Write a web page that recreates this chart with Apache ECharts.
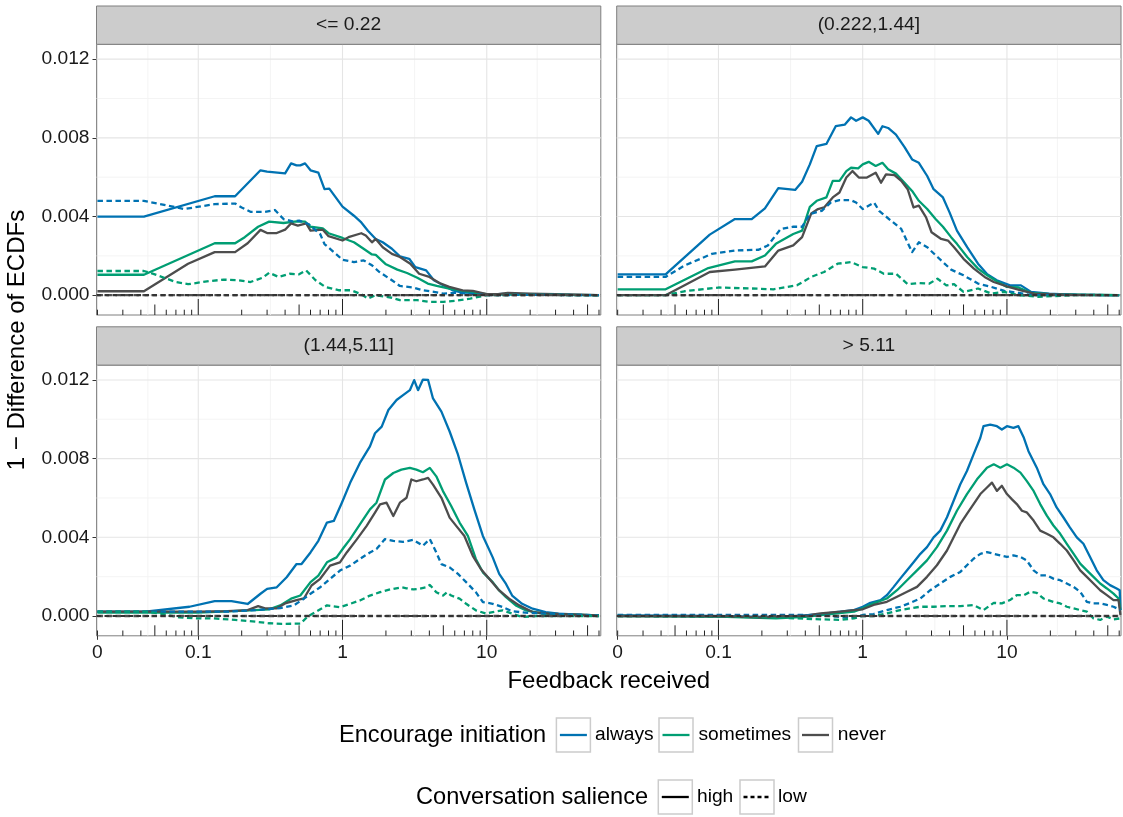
<!DOCTYPE html>
<html><head><meta charset="utf-8">
<script src="https://cdn.jsdelivr.net/npm/echarts@6/dist/echarts.min.js"></script>
<style>html,body{margin:0;padding:0;background:#fff}#c{width:1123px;height:817px}</style>
</head><body><div id="c"></div>
<script>
// ---------------- DATA (feedback received, 1 - difference of ECDFs in units of 1e-3) ----------------
const panelLabels = ['<= 0.22', '(0.222,1.44]', '(1.44,5.11]', '> 5.11'];
const initiationLevels = ['always', 'sometimes', 'never'];
const salienceLevels = ['high', 'low'];
const xTickValues = [0.02, 0.1, 1, 10];
const xTickLabels = ['0', '0.1', '1', '10'];
const yTickValues = [0, 0.004, 0.008, 0.012];
const yMinorValues = [0.002, 0.006, 0.010];

// Panel 1: <= 0.22
const p1AlwaysHigh = [[0.02,3.99],[0.042,3.99],[0.13,5.03],[0.18,5.03],[0.27,6.35],[0.3,6.28],[0.4,6.19],[0.44,6.7],[0.48,6.6],[0.51,6.6],[0.55,6.7],[0.6,6.35],[0.68,6.23],[0.75,5.39],[0.81,5.42],[1.0,4.5],[1.2,4.04],[1.35,3.7],[1.5,3.28],[1.7,2.86],[1.9,2.69],[2.2,2.36],[2.5,1.97],[2.9,1.85],[3.2,1.43],[3.8,1.26],[4.3,0.76],[5,0.5],[5.8,0.25],[6.8,0.13],[8.4,0.12],[10,0.03],[13,0.06],[20,0.04],[30,0.02],[60,0]];
const p1AlwaysLow = [[0.02,4.8],[0.042,4.8],[0.08,4.38],[0.13,4.63],[0.18,4.66],[0.2,4.46],[0.23,4.24],[0.29,4.24],[0.34,4.33],[0.39,3.87],[0.45,3.75],[0.5,3.79],[0.58,3.62],[0.7,3.11],[0.75,2.6],[0.9,2.1],[1.0,1.8],[1.2,1.68],[1.4,1.77],[1.6,1.52],[1.8,1.18],[2.2,0.76],[2.5,0.47],[3.1,0.39],[3.6,0.25],[4.3,0.17],[5,0.08],[6,0.12],[7.6,0.08],[10,0],[20,0.02],[60,0]];
const p1SometimesHigh = [[0.02,1.04],[0.042,1.04],[0.13,2.64],[0.18,2.64],[0.21,2.95],[0.26,3.48],[0.31,3.74],[0.39,3.67],[0.48,3.75],[0.55,3.74],[0.6,3.48],[0.73,3.4],[0.8,3.15],[1.0,2.91],[1.2,2.69],[1.4,2.36],[1.6,2.07],[1.7,2.05],[2.0,1.57],[2.4,1.3],[2.8,1.13],[3.3,0.89],[3.9,0.59],[4.5,0.47],[5.5,0.34],[6.8,0.22],[8.4,0.12],[10,0.05],[20,0.03],[60,0]];
const p1SometimesLow = [[0.02,1.23],[0.042,1.23],[0.05,1.06],[0.07,0.67],[0.085,0.56],[0.12,0.72],[0.15,0.79],[0.19,0.76],[0.23,0.67],[0.28,0.89],[0.31,1.14],[0.36,0.93],[0.43,1.09],[0.5,1.06],[0.56,1.26],[0.65,0.76],[0.76,0.42],[0.95,0.25],[1.15,0.25],[1.35,0.05],[1.5,-0.17],[1.7,0],[2.2,-0.13],[2.5,-0.25],[3.3,-0.25],[4,-0.34],[5,-0.34],[6,-0.29],[7.7,-0.17],[10,0],[20,0.02],[60,0]];
const p1NeverHigh = [[0.02,0.2],[0.042,0.2],[0.085,1.6],[0.13,2.19],[0.18,2.19],[0.22,2.64],[0.27,3.32],[0.3,3.16],[0.35,3.16],[0.4,3.33],[0.44,3.65],[0.49,3.54],[0.56,3.65],[0.6,3.28],[0.73,3.33],[0.8,3.0],[1.0,2.78],[1.1,2.95],[1.35,3.15],[1.45,3.03],[1.6,2.69],[1.7,2.86],[1.9,2.44],[2.2,2.1],[2.5,1.94],[2.95,1.6],[3.4,1.09],[4,0.93],[4.7,0.62],[5.5,0.42],[6.8,0.25],[8,0.22],[10,0.05],[12,0.05],[14,0.12],[20,0.08],[30,0.05],[60,0]];
const p1NeverLow = [[0.02,0],[60,0]];

// Panel 2: (0.222,1.44]
const p2AlwaysHigh = [[0.02,1.06],[0.043,1.06],[0.087,3.08],[0.13,3.87],[0.17,3.87],[0.21,4.41],[0.26,5.44],[0.34,5.35],[0.38,5.77],[0.43,6.65],[0.48,7.58],[0.56,7.69],[0.65,8.59],[0.75,8.67],[0.83,9.04],[0.9,8.87],[1.0,9.04],[1.1,8.87],[1.28,8.2],[1.37,8.59],[1.5,8.5],[1.7,8.16],[1.95,7.53],[2.2,6.9],[2.45,6.73],[2.8,6.06],[3.1,5.39],[3.6,4.97],[4,4.21],[4.5,3.28],[5.3,2.44],[6.3,1.6],[7.3,1.06],[8.5,0.76],[10.5,0.5],[12.5,0.5],[14.7,0.17],[19.5,0.08],[30,0.02],[60,0]];
const p2AlwaysLow = [[0.02,0.93],[0.043,0.93],[0.058,1.5],[0.09,2.1],[0.13,2.27],[0.19,2.31],[0.22,2.53],[0.27,3.37],[0.33,3.48],[0.38,3.48],[0.43,4.12],[0.52,4.29],[0.6,4.71],[0.69,4.83],[0.83,4.83],[0.9,4.71],[1.0,4.38],[1.2,4.71],[1.3,4.29],[1.57,3.79],[1.85,3.37],[2.2,2.19],[2.45,2.69],[2.8,2.44],[3.3,1.94],[4.1,1.3],[5,1.01],[6.3,0.59],[7.8,0.42],[9.6,0.22],[12,0.12],[14.7,0],[30,0.02],[60,0]];
const p2SometimesHigh = [[0.02,0.3],[0.043,0.3],[0.085,1.38],[0.13,1.72],[0.17,1.72],[0.21,2.02],[0.25,2.61],[0.33,3.11],[0.38,3.28],[0.43,4.49],[0.48,4.8],[0.56,4.97],[0.62,5.81],[0.69,5.81],[0.77,6.31],[0.83,6.48],[0.93,6.45],[1.0,6.65],[1.1,6.78],[1.23,6.57],[1.37,6.73],[1.5,6.4],[1.7,6.18],[1.95,5.72],[2.2,5.3],[2.45,4.8],[2.8,4.38],[3.2,3.87],[3.6,3.48],[4.1,2.95],[4.5,2.61],[5.3,1.94],[6.3,1.35],[7.3,1.01],[8.5,0.71],[10,0.42],[12,0.39],[14.7,0.12],[20,0.05],[60,0]];
const p2SometimesLow = [[0.02,0],[0.043,0],[0.058,0.2],[0.1,0.39],[0.17,0.34],[0.24,0.3],[0.35,0.5],[0.44,0.93],[0.54,1.18],[0.67,1.6],[0.83,1.68],[1.0,1.43],[1.2,1.35],[1.4,1.09],[1.7,1.09],[2.05,0.56],[2.45,0.62],[2.9,0.59],[3.3,0.84],[3.8,0.5],[4.3,0.56],[5,0.17],[6.3,0.34],[7.8,0.08],[9.6,0.17],[12,0],[16.5,-0.08],[30,0],[60,0]];
const p2NeverHigh = [[0.02,0],[0.043,0],[0.087,1.18],[0.13,1.3],[0.21,1.46],[0.26,2.27],[0.33,2.53],[0.38,2.95],[0.44,4.16],[0.49,4.38],[0.54,4.46],[0.62,4.97],[0.69,5.22],[0.77,5.98],[0.85,6.31],[0.94,5.98],[1.07,5.98],[1.23,6.23],[1.34,5.72],[1.45,6.14],[1.66,6.1],[1.85,5.81],[2.05,5.39],[2.25,4.46],[2.45,4.55],[2.75,3.96],[3.0,3.2],[3.5,2.86],[3.9,2.78],[4.3,2.44],[5,1.85],[5.9,1.35],[7,0.93],[8.1,0.67],[10,0.45],[12.5,0.25],[15.5,0.08],[30,0.02],[60,0]];
const p2NeverLow = [[0.02,0],[60,0]];

// Panel 3: (1.44,5.11]
const p3AlwaysHigh = [[0.02,0.22],[0.043,0.22],[0.087,0.47],[0.13,0.76],[0.17,0.76],[0.22,0.61],[0.27,1.13],[0.3,1.38],[0.35,1.46],[0.41,1.97],[0.48,2.64],[0.52,2.64],[0.6,3.23],[0.68,3.82],[0.78,4.75],[0.87,4.83],[0.99,5.76],[1.13,6.77],[1.32,7.78],[1.55,8.62],[1.68,9.29],[1.87,9.63],[2.08,10.47],[2.37,10.98],[2.63,11.23],[2.93,11.48],[3.14,11.99],[3.34,11.48],[3.61,12.02],[3.92,12.0],[4.24,11.06],[4.85,10.39],[5.53,9.38],[6.32,8.2],[7.2,6.77],[8.2,5.42],[9.4,4.07],[11,2.98],[12.2,2.14],[13.6,1.63],[15,1.04],[17.6,0.62],[20.8,0.37],[25.6,0.2],[31.5,0.12],[43,0.07],[60,0]];
const p3AlwaysLow = [[0.02,0.22],[0.1,0.22],[0.16,0.22],[0.25,0.3],[0.37,0.4],[0.46,0.54],[0.54,0.88],[0.6,1.13],[0.7,1.46],[0.82,1.89],[0.96,2.31],[1.13,2.56],[1.32,2.9],[1.55,3.23],[1.72,3.4],[1.97,3.91],[2.25,3.82],[2.63,3.77],[3.1,3.87],[3.61,3.57],[4.03,3.91],[4.47,3.23],[4.85,2.64],[5.53,2.47],[6.32,2.14],[7.2,1.72],[8.4,1.21],[9.4,0.71],[11,0.62],[12.9,0.45],[15,0.24],[18.6,0.17],[25.6,0.12],[60,0.03]];
const p3SometimesHigh = [[0.02,0.17],[0.1,0.17],[0.21,0.27],[0.31,0.34],[0.37,0.54],[0.44,0.88],[0.51,1.04],[0.6,1.72],[0.68,2.05],[0.78,2.73],[0.91,2.98],[1.02,3.48],[1.13,3.91],[1.32,4.66],[1.55,5.42],[1.72,5.76],[1.97,6.94],[2.25,7.27],[2.56,7.44],[2.93,7.53],[3.25,7.44],[3.61,7.31],[4.03,7.53],[4.47,7.1],[4.97,6.35],[5.67,5.59],[6.48,4.75],[7.4,4.07],[8.4,2.9],[9.4,2.22],[11,1.72],[12.2,1.3],[13.6,0.96],[15.9,0.54],[18.6,0.29],[24.5,0.12],[60,0.03]];
const p3SometimesLow = [[0.02,0.22],[0.043,0.22],[0.057,0.1],[0.074,-0.07],[0.096,-0.12],[0.125,-0.12],[0.18,-0.2],[0.25,-0.29],[0.31,-0.37],[0.38,-0.4],[0.51,-0.39],[0.57,-0.05],[0.62,0.12],[0.78,0.54],[0.96,0.45],[1.13,0.62],[1.32,0.79],[1.55,1.04],[1.82,1.21],[2.14,1.35],[2.56,1.46],[2.78,1.41],[3.1,1.35],[3.4,1.38],[3.81,1.46],[4.03,1.58],[4.47,1.21],[4.97,1.04],[5.3,1.21],[5.67,1.04],[6.48,0.88],[7.2,0.62],[8.4,0.29],[9.9,0.12],[11,0.2],[12.9,0.29],[15,0.12],[17.6,-0.05],[22,0],[60,0]];
const p3NeverHigh = [[0.02,0.22],[0.1,0.22],[0.16,0.25],[0.22,0.3],[0.26,0.5],[0.29,0.39],[0.35,0.39],[0.4,0.64],[0.48,0.81],[0.54,0.89],[0.61,1.55],[0.7,1.89],[0.82,2.56],[0.96,2.73],[1.07,3.23],[1.26,3.91],[1.47,4.58],[1.68,5.25],[1.82,5.67],[2.02,5.76],[2.25,5.08],[2.5,5.76],[2.78,6.01],[3.0,6.94],[3.25,6.85],[3.61,6.94],[3.92,7.02],[4.24,6.68],[4.85,6.01],[5.53,5.0],[6.14,4.58],[7.0,4.07],[8.0,3.06],[9.1,2.39],[10.4,1.89],[12.2,1.3],[14.3,0.88],[16.8,0.54],[20.8,0.2],[27,0.12],[60,0.03]];
const p3NeverLow = [[0.02,0],[60,0]];

// Panel 4: > 5.11
const p4AlwaysHigh = [[0.02,0.03],[0.1,0.0],[0.2,-0.05],[0.3,-0.03],[0.51,0.1],[0.7,0.22],[0.87,0.3],[1.0,0.47],[1.13,0.67],[1.33,0.81],[1.47,1.06],[1.64,1.48],[1.82,1.9],[2.03,2.32],[2.26,2.74],[2.51,3.16],[2.79,3.5],[3.1,4.0],[3.45,4.34],[3.84,5.02],[4.27,5.86],[4.75,6.7],[5.28,7.37],[5.87,8.22],[6.54,9.06],[6.88,9.65],[7.66,9.73],[8.52,9.65],[9.22,9.48],[10,9.65],[11.1,9.56],[12,9.65],[13.1,9.06],[14.1,8.38],[16.1,7.54],[17.9,6.7],[19.9,6.2],[22.1,5.52],[24.6,5.02],[27.3,4.51],[30.5,4.0],[33.9,3.67],[37.7,3.0],[41.9,2.32],[46.6,1.82],[51.8,1.57],[57.6,1.4],[60.5,1.31],[61.2,0.3]];
const p4AlwaysLow = [[0.02,0.05],[0.4,0.05],[0.6,0],[0.8,-0.1],[1.0,0.05],[1.19,0.1],[1.47,0.3],[1.82,0.47],[2.14,0.67],[2.51,0.89],[2.94,1.31],[3.45,1.65],[4.05,1.99],[4.75,2.24],[5.28,2.58],[5.87,2.91],[6.54,3.16],[7.27,3.25],[8.1,3.16],[9.0,3.08],[10,3.0],[11.1,3.08],[12.4,3.0],[13.7,2.83],[15.3,2.32],[17,2.07],[18.9,2.07],[21,1.9],[23.4,1.82],[26,1.65],[29,1.48],[32.2,1.23],[35.8,0.72],[39.8,0.64],[44.3,0.64],[49.3,0.56],[54.8,0.47],[61.2,0.3]];
const p4SometimesHigh = [[0.02,0],[0.1,-0.03],[0.25,-0.12],[0.4,-0.05],[0.51,0.05],[0.87,0.22],[1.0,0.39],[1.19,0.64],[1.47,0.89],[1.73,1.31],[2.03,1.82],[2.38,2.32],[2.79,2.83],[3.27,3.5],[3.84,4.34],[4.5,5.35],[5.28,6.2],[6.2,6.95],[7.27,7.54],[8.1,7.71],[9.0,7.54],[10,7.71],[11.1,7.54],[12.4,7.29],[13.7,6.87],[15.3,6.36],[17,5.69],[18.9,5.1],[21,4.6],[23.4,4.18],[26,3.67],[29,3.16],[32.2,2.66],[35.8,2.32],[39.8,1.99],[44.3,1.65],[49.3,1.4],[54.8,1.14],[59.4,0.89],[61.2,0.3]];
const p4SometimesLow = [[0.02,0],[0.2,-0.05],[0.51,-0.17],[0.7,-0.2],[0.87,-0.12],[1.0,0],[1.19,0],[1.47,0.13],[1.82,0.3],[2.14,0.39],[2.51,0.47],[3.1,0.47],[3.84,0.5],[4.75,0.5],[5.87,0.56],[6.88,0.3],[8.1,0.67],[9.22,0.64],[10.5,0.81],[11.7,1.06],[13.1,1.06],[14.5,1.23],[16.1,1.18],[17.9,0.89],[21,0.72],[23.4,0.64],[26,0.47],[29,0.39],[32.2,0.3],[35.8,0.22],[39.8,-0.12],[44.3,-0.2],[49.3,-0.03],[54.8,-0.17],[61.2,-0.12]];
const p4NeverHigh = [[0.02,0],[0.1,-0.02],[0.2,-0.07],[0.4,0.02],[0.51,0.13],[0.7,0.22],[0.87,0.3],[1.0,0.34],[1.19,0.56],[1.47,0.72],[1.73,0.98],[2.03,1.23],[2.38,1.48],[2.79,1.99],[3.27,2.58],[3.84,3.33],[4.27,4.0],[4.75,4.68],[5.28,5.19],[5.87,5.69],[6.54,6.2],[7.27,6.53],[7.87,6.78],[8.52,6.36],[9.22,6.62],[10,6.2],[10.8,5.94],[11.7,5.69],[12.7,5.35],[13.7,5.27],[15.3,4.85],[17,4.34],[18.9,4.18],[21,4.0],[23.4,3.67],[26,3.33],[29,2.83],[32.2,2.32],[35.8,1.99],[39.8,1.65],[44.3,1.31],[49.3,1.06],[54.8,0.81],[59.4,0.81],[61.2,0.05]];
const p4NeverLow = [[0.02,0],[61.2,0]];

// ---------------- BUILD ----------------
const panelSeries = [
  {always:[p1AlwaysHigh,p1AlwaysLow], sometimes:[p1SometimesHigh,p1SometimesLow], never:[p1NeverHigh,p1NeverLow]},
  {always:[p2AlwaysHigh,p2AlwaysLow], sometimes:[p2SometimesHigh,p2SometimesLow], never:[p2NeverHigh,p2NeverLow]},
  {always:[p3AlwaysHigh,p3AlwaysLow], sometimes:[p3SometimesHigh,p3SometimesLow], never:[p3NeverHigh,p3NeverLow]},
  {always:[p4AlwaysHigh,p4AlwaysLow], sometimes:[p4SometimesHigh,p4SometimesLow], never:[p4NeverHigh,p4NeverLow]}
];
const colors = {always:'#0072B2', sometimes:'#009E73', never:'#4D4D4D'};
const FONT = '"Liberation Sans", Arial, Helvetica, sans-serif';
const TXT = '#1A1A1A';
const DASH = [5.5, 3.5];
const LW = 2.3;

const X_MIN = -1.7055, X_MAX = 1.7907;
const Y_MIN = -1.007e-3, Y_MAX = 12.755e-3;
const PW = 504.3, PH = 270.7;
const gridPos = [
  {left:96.5, top:44.3}, {left:616.7, top:44.3},
  {left:96.5, top:365.1}, {left:616.7, top:365.1}
];
const STRIP_H = 38.3;

const xTickLog = xTickValues.map(v => Math.log10(v));
// ggplot-style minor breaks: midpoints between major breaks (extended by one step)
const ext = [xTickLog[0] - (xTickLog[1]-xTickLog[0]), ...xTickLog, xTickLog[xTickLog.length-1] + (xTickLog[1]-xTickLog[0])];
const xMinorLog = [];
for (let i = 0; i < ext.length - 1; i++) xMinorLog.push((ext[i] + ext[i+1]) / 2);

// annotation_logticks
const logTicks = [];
[0.01, 0.1, 1, 10].forEach(d => {
  for (let m = 1; m <= 9; m++) {
    const v = m * d;
    if (v >= 0.0199 && v <= 62) logTicks.push([Math.log10(v), 0, m === 1 ? 16 : (m === 5 ? 10.5 : 5.3)]);
  }
});

const option = {animation:false, backgroundColor:'#fff', grid:[], xAxis:[], yAxis:[], series:[], graphic:[]};

gridPos.forEach((g, i) => {
  const bottomRow = i >= 2, leftCol = i % 2 === 0;
  option.grid.push({left:g.left, top:g.top, width:PW, height:PH, show:true,
    borderColor:'#7F7F7F', borderWidth:1, backgroundColor:'#fff'});
  option.xAxis.push({type:'value', gridIndex:i, min:X_MIN, max:X_MAX, position:'bottom',
    axisLine:{show:false, onZero:false}, splitLine:{show:false},
    axisTick:{show:bottomRow, customValues:xTickLog, length:4, lineStyle:{color:'#333', width:1}},
    axisLabel:{show:bottomRow, customValues:xTickLog, margin:7, fontSize:19.2, color:TXT, fontFamily:FONT,
      formatter: v => { let k = 0, best = 1e9; xTickLog.forEach((t, j) => { if (Math.abs(t - v) < best) { best = Math.abs(t - v); k = j; } }); return xTickLabels[k]; }}
  });
  option.yAxis.push({type:'value', gridIndex:i, min:Y_MIN, max:Y_MAX, position:'left',
    axisLine:{show:false, onZero:false}, splitLine:{show:false},
    axisTick:{show:leftCol, customValues:yTickValues, length:4, lineStyle:{color:'#333', width:1}},
    axisLabel:{show:leftCol, customValues:yTickValues, margin:7, fontSize:19.2, color:TXT, fontFamily:FONT,
      formatter: v => v.toFixed(3)}
  });

  // grid lines
  const gridItems = [];
  yMinorValues.forEach(v => gridItems.push([0, v, 0, 1]));
  xMinorLog.forEach(v => gridItems.push([v, 0, 0, 0]));
  yTickValues.forEach(v => gridItems.push([0, v, 1, 1]));
  xTickLog.forEach(v => gridItems.push([v, 0, 1, 0]));
  option.series.push({type:'custom', xAxisIndex:i, yAxisIndex:i, silent:true, z:1, clip:true,
    data: gridItems,
    renderItem: (params, api) => {
      const cs = params.coordSys;
      const major = api.value(2), horiz = api.value(3);
      const p = api.coord([api.value(0), api.value(1)]);
      const style = {stroke: major ? '#E5E5E5' : '#F3F3F3', lineWidth: major ? 1.1 : 0.9};
      if (horiz) return {type:'line', shape:{x1:cs.x, y1:p[1], x2:cs.x+cs.width, y2:p[1]}, style};
      return {type:'line', shape:{x1:p[0], y1:cs.y, x2:p[0], y2:cs.y+cs.height}, style};
    }
  });

  // data lines
  const ps = panelSeries[i];
  salienceLevels.forEach((sal, si) => {
    initiationLevels.forEach(lev => {
      const arr = ps[lev][si];
      if (lev === 'never' && sal === 'low') return; // drawn below together with the reference line
      option.series.push({type:'line', xAxisIndex:i, yAxisIndex:i, z:2, name: lev + ' / ' + sal,
        showSymbol:false, symbol:'none', clip:true,
        data: arr.map(d => [Math.log10(d[0]), d[1] * 1e-3]),
        lineStyle:{color:colors[lev], width:LW, type: sal === 'low' ? DASH : 'solid', cap:'butt', join:'round'}
      });
    });
  });
  // never / low (coincides with zero) + horizontal reference line at 0
  option.series.push({type:'line', xAxisIndex:i, yAxisIndex:i, z:3, showSymbol:false, symbol:'none', clip:true,
    data: ps.never[1].map(d => [Math.log10(d[0]), d[1] * 1e-3]),
    lineStyle:{color:'#4D4D4D', width:LW, type:DASH}});
  option.series.push({type:'line', xAxisIndex:i, yAxisIndex:i, z:3, showSymbol:false, symbol:'none', clip:true,
    data: [[X_MIN, 0], [X_MAX, 0]],
    lineStyle:{color:'#333333', width:2.2, type:[4.5, 3.5]}});

  // log ticks
  option.series.push({type:'custom', xAxisIndex:i, yAxisIndex:i, silent:true, z:4, clip:false,
    data: logTicks,
    renderItem: (params, api) => {
      const cs = params.coordSys;
      const x = api.coord([api.value(0), 0])[0];
      const yb = cs.y + cs.height;
      return {type:'line', shape:{x1:x, y1:yb, x2:x, y2:yb - api.value(2)}, style:{stroke:'#222', lineWidth:1}};
    }
  });

  // strip
  option.graphic.push({type:'rect', shape:{x:g.left, y:g.top - STRIP_H, width:PW, height:STRIP_H},
    style:{fill:'#CCCCCC', stroke:'#7F7F7F', lineWidth:1}, z:10});
  option.graphic.push({type:'text', x:g.left + PW/2, y:g.top - STRIP_H/2, z:11,
    style:{text:panelLabels[i], fill:TXT, font:'19.2px ' + FONT, textAlign:'center', textVerticalAlign:'middle'}});
});

// axis titles
option.graphic.push({type:'text', x:608.8, y:681, z:11,
  style:{text:'Feedback received', fill:'#000', font:'24px ' + FONT, textAlign:'center', textVerticalAlign:'middle'}});
option.graphic.push({type:'text', x:17, y:340, rotation:Math.PI/2, z:11,
  style:{text:'1 \u2212 Difference of ECDFs', fill:'#000', font:'24px ' + FONT, textAlign:'center', textVerticalAlign:'middle'}});

// legends
const legendTitles = ['Encourage initiation', 'Conversation salience'];
function legendKey(x, y, color, dash) {
  option.graphic.push({type:'rect', shape:{x:x, y:y - 17, width:34, height:34}, style:{fill:'#fff', stroke:'#CCCCCC', lineWidth:1.5}, z:11});
  option.graphic.push({type:'line', shape:{x1:x + 3.5, y1:y, x2:x + 30.5, y2:y}, style:{stroke:color, lineWidth:2.3, lineDash:dash || null}, z:12});
}
function legendText(x, y, t, size) {
  option.graphic.push({type:'text', x:x, y:y, z:12,
    style:{text:t, fill:'#000', font: size + 'px ' + FONT, textAlign:'left', textVerticalAlign:'middle'}});
}
// row 1
legendText(339, 735, legendTitles[0], 23.6);
const keyX1 = [556.4, 659, 798.5];
const labX1 = [595, 698.4, 837.8];
initiationLevels.forEach((lev, k) => { legendKey(keyX1[k], 735, colors[lev]); legendText(labX1[k], 735, lev, 19.2); });
// row 2
legendText(416, 797, legendTitles[1], 23.6);
const keyX2 = [658.3, 740];
const labX2 = [697, 778];
salienceLevels.forEach((sal, k) => { legendKey(keyX2[k], 797, '#000', sal === 'low' ? [4, 3] : null); legendText(labX2[k], 797, sal, 19.2); });

const chart = echarts.init(document.getElementById('c'));
chart.setOption(option);
</script>
</body></html>
